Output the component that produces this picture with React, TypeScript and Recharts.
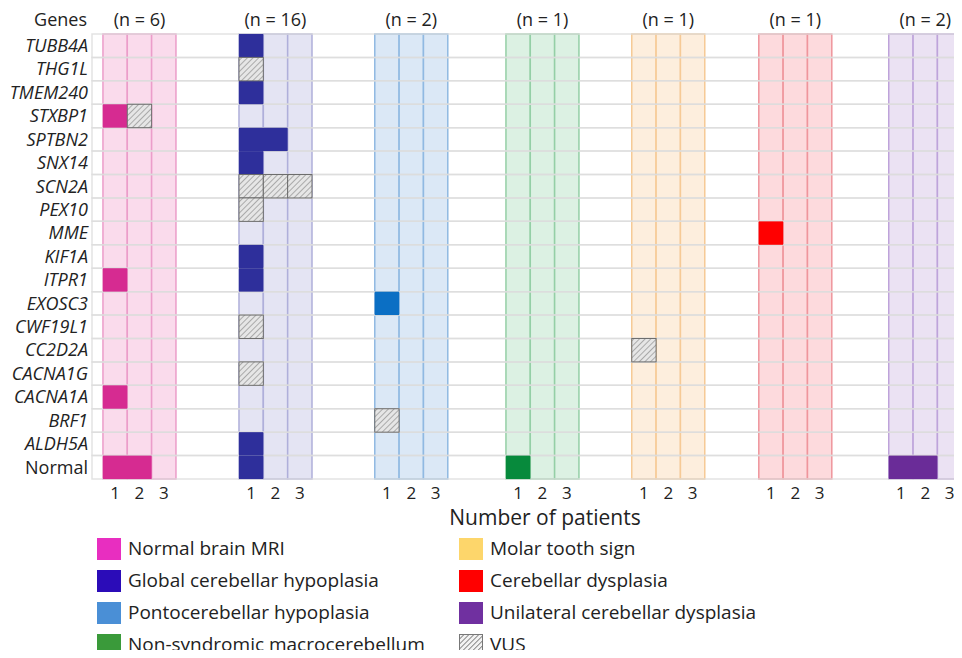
import { ComposedChart, ReferenceArea, Scatter, XAxis, YAxis } from "recharts";

const genes = [
  "TUBB4A", "THG1L", "TMEM240", "STXBP1", "SPTBN2", "SNX14", "SCN2A", "PEX10", "MME", "KIF1A",
  "ITPR1", "EXOSC3", "CWF19L1", "CC2D2A", "CACNA1G", "CACNA1A", "BRF1", "ALDH5A", "Normal",
];

const groupNames = [
  "Normal brain MRI",
  "Global cerebellar hypoplasia",
  "Pontocerebellar hypoplasia",
  "Non-syndromic macrocerebellum",
  "Molar tooth sign",
  "Cerebellar dysplasia",
  "Unilateral cerebellar dysplasia",
];
const groupCounts = [6, 16, 2, 1, 1, 1, 2];
const patientSlots = [1, 2, 3];

// [gene, solid cells, VUS cells]
type Cell = [string, number, number];
const normalMriCells: Cell[] = [["STXBP1", 1, 1], ["ITPR1", 1, 0], ["CACNA1A", 1, 0], ["Normal", 2, 0]];
const globalHypoplasiaCells: Cell[] = [
  ["TUBB4A", 1, 0], ["THG1L", 0, 1], ["TMEM240", 1, 0], ["SPTBN2", 2, 0], ["SNX14", 1, 0],
  ["SCN2A", 0, 3], ["PEX10", 0, 1], ["KIF1A", 1, 0], ["ITPR1", 1, 0], ["CWF19L1", 0, 1],
  ["CACNA1G", 0, 1], ["ALDH5A", 1, 0], ["Normal", 1, 0],
];
const pontoHypoplasiaCells: Cell[] = [["EXOSC3", 1, 0], ["BRF1", 0, 1]];
const macrocerebellumCells: Cell[] = [["Normal", 1, 0]];
const molarToothCells: Cell[] = [["CC2D2A", 0, 1]];
const dysplasiaCells: Cell[] = [["MME", 1, 0]];
const unilateralCells: Cell[] = [["Normal", 2, 0]];

const groupCells = [
  normalMriCells, globalHypoplasiaCells, pontoHypoplasiaCells, macrocerebellumCells,
  molarToothCells, dysplasiaCells, unilateralCells,
];

// layout: left edge of each group, in patient-column units
const groupX = [0, 5.59, 11.17, 16.56, 21.73, 26.95, 32.29];
const xDomain: [number, number] = [-0.45, 35.3];

const CHART_W = 954;
const CHART_H = 530;
const Y_AXIS_W = 84;
const TOP = 26;
const X_AXIS_H = 49;
const BOTTOM = 10;
const UNIT = (CHART_W - Y_AXIS_W) / (xDomain[1] - xDomain[0]);
const ROW_H = (CHART_H - TOP - X_AXIS_H - BOTTOM) / genes.length;

const styles = [
  { legend: "#e82ec0", cell: "#d62b91", bg: "#fadbec", line: "#eb9dca" },
  { legend: "#2b0cb8", cell: "#2e2f9b", bg: "#e4e4f3", line: "#afafda" },
  { legend: "#4a8fd6", cell: "#0b6fc4", bg: "#dbe8f6", line: "#90b9e2" },
  { legend: "#3a9a3a", cell: "#078a3c", bg: "#dcf1e3", line: "#94cfa6" },
  { legend: "#fdd66b", cell: "#f5b94a", bg: "#fdeedd", line: "#f6ca96" },
  { legend: "#ff0000", cell: "#ff0000", bg: "#fddadd", line: "#ef959c" },
  { legend: "#7030a0", cell: "#6a2c98", bg: "#ebe2f3", line: "#bea3da" },
];

const textColor = "#222";

const solidPoints = groupCells.flatMap((cells, g) =>
  cells
    .filter(([, solid]) => solid > 0)
    .map(([gene, solid]) => ({ x: groupX[g] + solid / 2, y: genes.indexOf(gene) + 0.5, w: solid, g }))
);
const vusPoints = groupCells.flatMap((cells, g) =>
  cells.flatMap(([gene, solid, vus]) =>
    Array.from({ length: vus }, (_, k) => ({ x: groupX[g] + solid + k + 0.5, y: genes.indexOf(gene) + 0.5, w: 1, g }))
  )
);

function CellShape(props: any) {
  const { cx, cy, payload, vus } = props;
  const w = payload.w * UNIT;
  if (vus) {
    return (
      <rect x={cx - w / 2} y={cy - ROW_H / 2} width={w} height={ROW_H} fill="url(#vus)" stroke="#6b6b6b" strokeWidth={1} />
    );
  }
  return <rect x={cx - w / 2} y={cy - ROW_H / 2} width={w} height={ROW_H} fill={styles[payload.g].cell} />;
}

function GeneTick(props: any) {
  const { x, y, payload } = props;
  const name = genes[Math.floor(payload.value)];
  return (
    <text
      x={x}
      y={y}
      dy="0.35em"
      textAnchor="end"
      fontSize={18}
      fill={textColor}
      fontStyle={name === "Normal" ? "normal" : "italic"}
    >
      {name}
    </text>
  );
}

function LegendItem({ label, color, left, top }: { label: string; color?: string; left: number; top: number }) {
  return (
    <div style={{ position: "absolute", left, top, display: "flex", alignItems: "center", height: 21 }}>
      {color ? (
        <div style={{ width: 24, height: 22, background: color }} />
      ) : (
        <svg width={24} height={22} style={{ display: "block" }}>
          <defs>
            <pattern id="vusLegend" width="3.5" height="3.5" patternUnits="userSpaceOnUse" patternTransform="rotate(45)">
              <rect width="3.5" height="3.5" fill="#f2f2f2" />
              <line x1="0" y1="0" x2="0" y2="3.5" stroke="#555" strokeWidth="1.3" />
            </pattern>
          </defs>
          <rect x={0.5} y={0.5} width={23} height={21} fill="url(#vusLegend)" stroke="#777" />
        </svg>
      )}
      <span style={{ marginLeft: 7, fontSize: 19, lineHeight: "21px", color: textColor, whiteSpace: "nowrap" }}>
        {label}
      </span>
    </div>
  );
}

export default function App() {
  const legendLeft = groupNames.slice(0, 4);
  const legendRight = [...groupNames.slice(4), "VUS"];

  return (
    <div
      style={{
        position: "relative",
        width: 954,
        height: 650,
        marginBottom: -8,
        overflow: "hidden",
        fontFamily: "'Open Sans', sans-serif",
        color: textColor,
      }}
    >
      <div style={{ position: "absolute", left: 0, top: 0, width: 79, textAlign: "right", fontSize: 18, lineHeight: "23px" }}>
        Genes
      </div>
      <ComposedChart width={CHART_W} height={CHART_H} margin={{ top: TOP, right: 0, left: 0, bottom: BOTTOM }}>
        <defs>
          <pattern id="vus" width="4" height="4" patternUnits="userSpaceOnUse" patternTransform="rotate(45)">
            <rect width="4" height="4" fill="#e6e6e6" />
            <line x1="0" y1="0" x2="0" y2="4" stroke="#8a8a8a" strokeWidth="1.3" />
          </pattern>
        </defs>
        <XAxis
          dataKey="x"
          type="number"
          domain={xDomain}
          allowDataOverflow
          ticks={groupX.flatMap((x0) => patientSlots.map((_, c) => x0 + c + 0.5))}
          tickFormatter={(_, i) => String(patientSlots[i % 3])}
          interval={0}
          axisLine={false}
          tickLine={false}
          height={X_AXIS_H}
          tick={{ fill: textColor, fontSize: 17 }}
          label={{ value: "Number of patients", position: "insideBottom", offset: 3, dx: 18, fontSize: 21, fill: textColor }}
        />
        <YAxis
          yAxisId="label"
          dataKey="y"
          type="number"
          domain={[0, genes.length]}
          reversed
          allowDataOverflow
          ticks={genes.map((_, i) => i + 0.5)}
          interval={0}
          width={Y_AXIS_W}
          axisLine={false}
          tickLine={false}
          tickSize={0}
          tickMargin={4}
          tick={<GeneTick />}
        />

        {groupX.map((x0, g) =>
          patientSlots.map((_, c) => (
            <ReferenceArea
              key={`bg-${g}-${c}`}
              yAxisId="label"
              x1={x0 + c}
              x2={x0 + c + 1}
              y1={0}
              y2={genes.length}
              fill={styles[g].bg}
              fillOpacity={1}
              stroke={styles[g].line}
              strokeWidth={1.5}
              label={
                c === 1
                  ? { value: `(n = ${groupCounts[g]})`, position: "top", offset: 8, fontSize: 18, fill: textColor }
                  : undefined
              }
            />
          ))
        )}

        {genes.map((gene, i) => (
          <ReferenceArea
            key={`row-${gene}`}
            yAxisId="label"
            x1={xDomain[0]}
            x2={xDomain[1]}
            y1={i}
            y2={i + 1}
            fill="none"
            stroke="#dcdcdc"
            strokeOpacity={0.8}
            strokeWidth={1.5}
          />
        ))}

        <Scatter
          name="cells"
          yAxisId="label"
          data={solidPoints}
          isAnimationActive={false}
          shape={(p: any) => <CellShape {...p} />}
        />
        <Scatter
          name="VUS"
          yAxisId="label"
          data={vusPoints}
          isAnimationActive={false}
          shape={(p: any) => <CellShape {...p} vus />}
        />
      </ComposedChart>

      {legendLeft.map((name, i) => (
        <LegendItem key={name} label={name} color={styles[i].legend} left={89} top={530 + i * 32} />
      ))}
      {legendRight.map((name, i) => (
        <LegendItem key={name} label={name} color={styles[i + 4]?.legend} left={451} top={530 + i * 32} />
      ))}
    </div>
  );
}
